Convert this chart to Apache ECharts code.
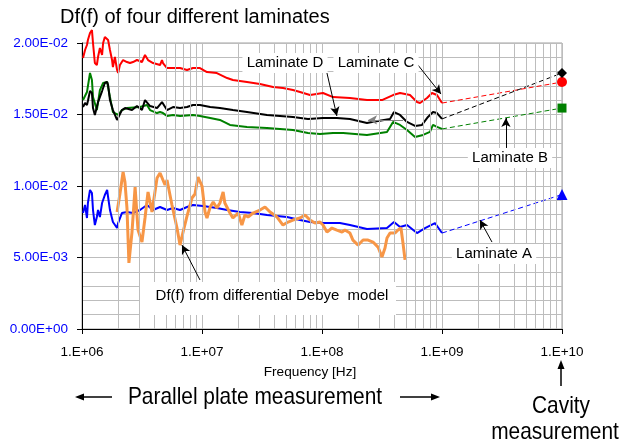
<!DOCTYPE html>
<html>
<head>
<meta charset="utf-8">
<title>Df(f) of four different laminates</title>
<script src="https://cdn.jsdelivr.net/npm/echarts@6/dist/echarts.min.js"></script>
</head>
<body style="margin:0">
<div id="main" style="width:621px;height:445px;"></div>
<script>
// measured Df(f) from parallel plate, [frequency Hz, Df]
var lamC = [[1.02e6,.01895],[1.06e6,.01951],[1.10e6,.01986],[1.12e6,.02021],[1.166e6,.0207],[1.21e6,.02091],[1.235e6,.0200],[1.28e6,.01860],[1.33e6,.01846],[1.36e6,.01902],[1.41e6,.01965],[1.47e6,.01916],[1.50e6,.0200],[1.55e6,.02042],[1.65e6,.02021],[1.71e6,.01951],[1.78e6,.01881],[1.81e6,.01832],[1.88e6,.01902],[1.96e6,.01811],[2.0e6,.0179],[2.07e6,.01846],[2.2e6,.01881],[2.37e6,.01867],[2.51e6,.0186],[2.66e6,.01867],[2.87e6,.01881],[3.16e6,.01867],[3.35e6,.01916],[3.55e6,.01881],[3.91e6,.0186],[4.47e6,.01846],[4.64e6,.01881],[4.73e6,.0186],[5.11e6,.01825],[5.73e6,.01825],[6.56e6,.01825],[7.5e6,.01811],[8.41e6,.01825],[9.62e6,.01825],[1.10e7,.01797],[1.33e7,.0179],[1.62e7,.01755],[1.81e7,.01741],[2.37e7,.01727],[3.04e7,.01713],[3.91e7,.01692],[4.73e7,.01685],[5.73e7,.01671],[6.56e7,.01657],[7.94e7,.01636],[1.02e8,.0165],[1.235e8,.01622],[1.71e8,.01615],[2.37e8,.01601],[3.16e8,.01601],[3.91e8,.01636],[4.47e8,.0165],[5.41e8,.01636],[6.19e8,.01587],[6.56e8,.0158],[7.5e8,.01615],[8.25e8,.0165],[9.08e8,.01636],[1e9,.0158]];
var lamD = [[1.02e6,.01552],[1.06e6,.0158],[1.10e6,.01566],[1.12e6,.01594],[1.166e6,.01664],[1.21e6,.0165],[1.235e6,.01545],[1.28e6,.01497],[1.33e6,.01552],[1.36e6,.01587],[1.47e6,.01664],[1.55e6,.0172],[1.62e6,.01727],[1.65e6,.01706],[1.71e6,.01601],[1.81e6,.01531],[1.96e6,.01462],[2.0e6,.01476],[2.15e6,.01531],[2.28e6,.01545],[2.61e6,.01531],[2.87e6,.01559],[3.16e6,.01531],[3.35e6,.01601],[3.69e6,.01559],[4.22e6,.01545],[4.64e6,.01587],[5.11e6,.01531],[5.73e6,.01552],[6.56e6,.01545],[7.5e6,.01552],[8.41e6,.01566],[9.62e6,.01566],[1.17e7,.01552],[1.41e7,.01545],[1.81e7,.01531],[2.37e7,.01517],[3.48e7,.01497],[5.73e7,.01483],[7.64e7,.01469],[1.02e8,.01476],[1.33e8,.01476],[1.71e8,.01469],[2.37e8,.01441],[2.61e8,.01448],[3.69e8,.01469],[3.98e8,.01517],[4.47e8,.01497],[5.11e8,.01448],[5.96e8,.0142],[6.81e8,.01427],[7.64e8,.01483],[8.41e8,.01517],[9.08e8,.0151],[1e9,.01469]];
var lamB = [[1.02e6,.01601],[1.10e6,.01657],[1.166e6,.0179],[1.21e6,.01741],[1.235e6,.01622],[1.33e6,.01531],[1.41e6,.01671],[1.50e6,.0172],[1.62e6,.01727],[1.71e6,.01622],[1.81e6,.01517],[2.0e6,.01497],[2.15e6,.01531],[2.37e6,.01545],[3.04e6,.01552],[3.48e6,.01566],[3.69e6,.01531],[4.22e6,.0151],[4.47e6,.01517],[4.73e6,.0151],[5.11e6,.0149],[5.73e6,.01497],[6.56e6,.0149],[8.41e6,.01497],[9.62e6,.0149],[1.17e7,.01476],[1.41e7,.01462],[1.71e7,.01427],[2.37e7,.01413],[3.48e7,.01406],[5.73e7,.01392],[7.64e7,.01371],[9.62e7,.01364],[1.235e8,.01371],[1.5e8,.01371],[2.37e8,.01357],[3.48e8,.01378],[3.91e8,.01448],[4.47e8,.01427],[5.11e8,.01392],[5.96e8,.01343],[6.95e8,.01357],[7.94e8,.01378],[8.41e8,.01427],[9.08e8,.01413],[1e9,.01399]];
var lamA = [[1.02e6,.00811],[1.06e6,.00867],[1.10e6,.00776],[1.12e6,.00881],[1.166e6,.00972],[1.21e6,.00951],[1.235e6,.00832],[1.28e6,.00727],[1.33e6,.00783],[1.36e6,.00832],[1.41e6,.00783],[1.47e6,.00881],[1.55e6,.00937],[1.62e6,.00972],[1.65e6,.00923],[1.71e6,.00832],[1.81e6,.00748],[1.96e6,.00706],[2.0e6,.00741],[2.15e6,.00811],[2.37e6,.00818],[2.66e6,.00811],[3.04e6,.00832],[3.48e6,.00867],[3.91e6,.00832],[4.47e6,.00853],[5.11e6,.00832],[5.73e6,.00846],[6.56e6,.00832],[7.5e6,.00853],[8.41e6,.00867],[1.02e7,.0086],[1.33e7,.00846],[1.62e7,.00832],[2.07e7,.00818],[2.66e7,.00811],[3.48e7,.00797],[5.11e7,.00783],[6.56e7,.00762],[7.94e7,.00748],[1.02e8,.00741],[1.41e8,.00741],[1.71e8,.00727],[2.37e8,.00699],[3.48e8,.00706],[3.98e8,.00748],[4.47e8,.00713],[5.11e8,.00727],[6.19e8,.00671],[7.22e8,.00706],[8.74e8,.00741],[1e9,.00671]];
// Df(f) from differential Debye model
var debye = [[1.96e6,.00818],[2.07e6,.00944],[2.2e6,.01098],[2.28e6,.01028],[2.37e6,.00846],[2.46e6,.00462],[2.61e6,.00678],[2.77e6,.00993],[2.93e6,.00692],[3.16e6,.00608],[3.35e6,.00776],[3.55e6,.00958],[3.83e6,.00818],[4.22e6,.01056],[4.47e6,.01091],[4.92e6,.01007],[5.11e6,.01042],[5.62e6,.00867],[6.19e6,.00706],[6.56e6,.00587],[6.95e6,.00678],[7.5e6,.0079],[8.25e6,.00916],[8.74e6,.00944],[9.26e6,.01063],[1.0e7,.0100],[1.06e7,.00818],[1.10e7,.00776],[1.17e7,.00853],[1.24e7,.00888],[1.33e7,.00846],[1.41e7,.00881],[1.50e7,.00958],[1.55e7,.00881],[1.71e7,.00811],[1.81e7,.00776],[2.0e7,.00811],[2.15e7,.00727],[2.28e7,.00797],[2.42e7,.00783],[2.66e7,.00811],[3.04e7,.00832],[3.35e7,.00853],[3.69e7,.00818],[4.22e7,.00783],[4.73e7,.00727],[5.21e7,.00748],[5.73e7,.00762],[6.56e7,.00776],[7.22e7,.00797],[7.94e7,.00762],[8.74e7,.00741],[9.62e7,.00748],[1.02e8,.00727],[1.10e8,.00678],[1.21e8,.00706],[1.33e8,.00692],[1.47e8,.00678],[1.55e8,.00692],[1.71e8,.00671],[1.81e8,.00622],[2.0e8,.00587],[2.2e8,.00622],[2.42e8,.00622],[2.66e8,.00608],[2.93e8,.00573],[3.16e8,.00503],[3.35e8,.00566],[3.48e8,.00636],[3.69e8,.00671],[4.06e8,.00671],[4.3e8,.00692],[4.55e8,.00706],[4.73e8,.00601],[4.92e8,.00483]];
// cavity measurement at 10 GHz
var cavityFreq = 1e10;
var cavityC = 0.01727, cavityD = 0.0179, cavityB = 0.01545, cavityA = 0.0094;
var minorFreqs = [];
[1e6, 1e7, 1e8, 1e9].forEach(function (d) {
    for (var k = 2; k <= 9; k++) minorFreqs.push(k * d);
});

function pad2(n) { return (n < 10 ? '0' : '') + n; }
function sciLabel(v) {
    if (v === 0) return '0.00E+00';
    var e = Math.floor(Math.log10(v) + 1e-9);
    var m = v / Math.pow(10, e);
    return m.toFixed(2) + 'E' + (e < 0 ? '-' : '+') + pad2(Math.abs(e));
}

var chart = echarts.init(document.getElementById('main'));

function measured(name, data, color, width, clip) {
    return {
        name: name, type: 'line', data: data, showSymbol: false, clip: clip,
        lineStyle: { color: color, width: width }, itemStyle: { color: color }, z: 3
    };
}
function cavityLine(data, cavity, color, symbol, size) {
    var last = data[data.length - 1];
    return {
        type: 'line', z: 3,
        data: [{ value: last, symbol: 'none' }, { value: [cavityFreq, cavity], symbol: symbol, symbolSize: size }],
        lineStyle: { color: color, width: 1, type: [5, 3] },
        itemStyle: { color: color }
    };
}
function arrow(from, to, color) {
    return [{ coord: from, lineStyle: { color: color || '#000' } }, { coord: to }];
}

var fam = '"Liberation Sans", Arial, sans-serif';
function centred(text, x, y, font, sx, bg) {
    var st = { text: text, font: font, fill: '#000', align: 'center', verticalAlign: 'middle',
               textAlign: 'center', textVerticalAlign: 'middle' };
    if (bg) { st.backgroundColor = '#fff'; st.padding = [3, 4]; }
    return { type: 'text', x: x, y: y, z: 100, scaleX: sx, style: st };
}
function boxText(text, x, y) { return centred(text, x, y, '14px ' + fam, 1.07, true); }
function hArrow(x1, x2, y) {
    var dir = x2 > x1 ? 1 : -1;
    return [
        { type: 'line', shape: { x1: x1, y1: y, x2: x2 - dir * 6, y2: y }, style: { stroke: '#000', lineWidth: 1.5 } },
        { type: 'polygon', shape: { points: [[x2, y], [x2 - dir * 9, y - 3.5], [x2 - dir * 9, y + 3.5]] }, style: { fill: '#000' } }
    ];
}

var big = '24px ' + fam;

var option = {
    animation: false,
    title: {
        text: 'Df(f) of four different laminates', left: 55, top: 2,
        textStyle: { fontFamily: fam, fontSize: 20, fontWeight: 'normal', color: '#000' }
    },
    grid: { left: 82, right: 59, top: 43, bottom: 116, show: true, borderColor: '#a0a0a0', borderWidth: 1 },
    xAxis: {
        type: 'log', min: 1e6, max: 1e10, logBase: 10,
        axisLine: { lineStyle: { color: '#000', width: 1 } },
        axisTick: { show: true, length: 5, lineStyle: { color: '#000' } },
        axisLabel: {
            margin: 16, color: '#000', fontFamily: fam, fontSize: 13.5,
            formatter: function (v) { return '1.E+' + pad2(Math.round(Math.log10(v))); }
        },
        splitLine: { show: true, lineStyle: { color: '#bdbdbd', width: 1 } }
    },
    yAxis: {
        type: 'value', min: 0, max: 0.02, interval: 0.005,
        axisLine: { show: true, lineStyle: { color: '#000', width: 1 } },
        axisTick: { show: true, length: 5, lineStyle: { color: '#000' } },
        axisLabel: {
            margin: 14, color: '#0000ff', fontFamily: fam, fontSize: 13.5,
            formatter: sciLabel
        },
        splitLine: { show: true, lineStyle: { color: '#bdbdbd', width: 1 } },
        minorTick: { show: false, splitNumber: 5 },
        minorSplitLine: { show: true, lineStyle: { color: '#bdbdbd', width: 1 } }
    },
    series: [
        {
            type: 'line', data: [], z: 1, silent: true,
            markLine: {
                silent: true, symbol: ['none', 'none'], label: { show: false },
                lineStyle: { color: '#bdbdbd', width: 1, type: 'solid' },
                data: minorFreqs.map(function (f) { return { xAxis: f }; })
            }
        },
        measured('Laminate C', lamC, '#ff0000', 2, false),
        measured('Laminate B', lamB, '#008000', 2, true),
        measured('Laminate D', lamD, '#000000', 2, true),
        measured('Laminate A', lamA, '#0000ff', 2, true),
        cavityLine(lamC, cavityC, '#ff0000', 'circle', 10),
        cavityLine(lamD, cavityD, '#000000', 'diamond', 10),
        cavityLine(lamB, cavityB, '#008000', 'rect', 9),
        cavityLine(lamA, cavityA, '#0000ff', 'triangle', 11),
        {
            name: 'Debye model', type: 'line', data: debye, showSymbol: false, z: 4,
            lineStyle: { color: '#f79646', width: 3 },
            markLine: {
                silent: true, symbol: ['none', 'arrow'], symbolSize: [7, 9], label: { show: false },
                lineStyle: { color: '#000', width: 1, type: 'solid' },
                data: [
                    arrow([9.62e6, 0.00343], [6.81e6, 0.00587]),
                    arrow([1.10e8, 0.0179], [1.33e8, 0.0149]),
                    arrow([4.73e8, 0.01462], [2.42e8, 0.01462], '#808080'),
                    arrow([5.84e8, 0.01881], [9.81e8, 0.01643]),
                    arrow([3.41e9, 0.01266], [3.41e9, 0.01476]),
                    arrow([2.61e9, 0.00608], [2.07e9, 0.00762])
                ]
            }
        }
    ],
    graphic: [
        boxText('Laminate D', 285, 63),
        boxText('Laminate C', 376, 63),
        boxText('Laminate B', 510, 158),
        boxText('Laminate A', 494, 254),
        {
            type: 'rect', z: 99, shape: { x: 140, y: 282, width: 256, height: 33 }, style: { fill: '#fff' }
        },
        boxText('Df(f) from differential Debye  model', 272, 296),
        centred('Frequency [Hz]', 310, 372, '13px ' + fam, 1.05, false),
        centred('Parallel plate measurement', 255, 397, big, 0.87, false),
        centred('Cavity', 561, 406, big, 0.87, false),
        centred('measurement', 555, 432, big, 0.87, false),
        { type: 'line', shape: { x1: 561, y1: 386, x2: 561, y2: 366 }, style: { stroke: '#000', lineWidth: 1.5 } },
        { type: 'polygon', shape: { points: [[561, 360], [557.5, 369], [564.5, 369]] }, style: { fill: '#000' } }
    ].concat(hArrow(112, 75, 397)).concat(hArrow(400, 440, 397))
};

chart.setOption(option);
</script>
</body>
</html>
